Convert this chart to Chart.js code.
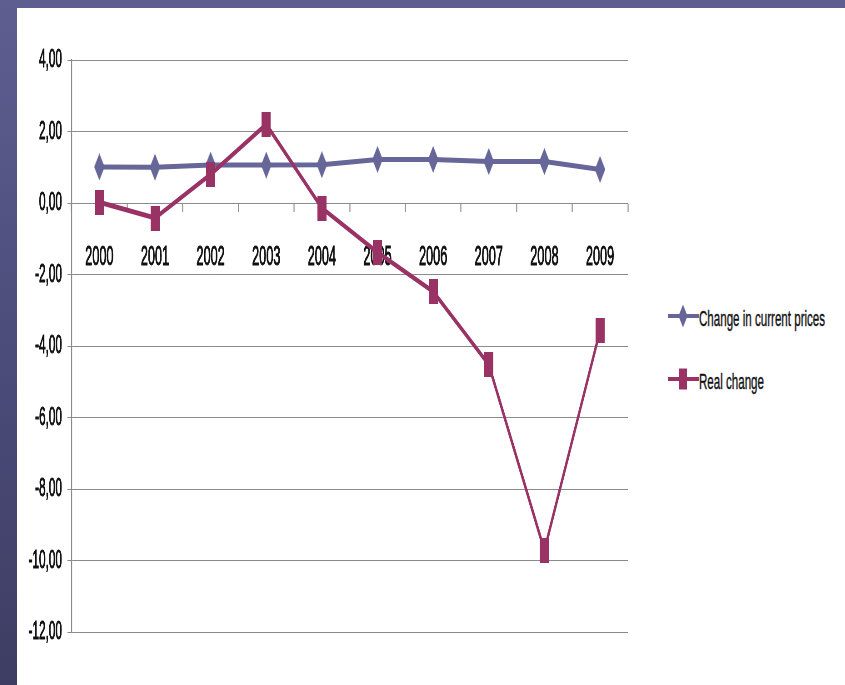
<!DOCTYPE html>
<html>
<head>
<meta charset="utf-8">
<script src="https://cdn.jsdelivr.net/npm/chart.js@4.4.1/dist/chart.umd.min.js"></script>
<style>
  html, body { margin: 0; padding: 0; }
  body {
    width: 845px; height: 685px; overflow: hidden; position: relative;
    background: linear-gradient(to bottom, #5e5e91 0%, #4b4b79 55%, #3d3d63 100%);
  }
  #sheet { position: absolute; left: 17px; top: 8px; right: 0; bottom: 0; background: #fff; }
  /* chart is drawn wide and squeezed horizontally, like the original slide */
  #chart { position: absolute; left: 0; top: 0; transform-origin: 0 0; transform: scaleX(0.4545); }
  #legend { position: absolute; left: 651px; top: 295px; font-family: 'Liberation Sans', Arial, sans-serif; }
  .item { position: relative; height: 26px; margin-bottom: 37px; }
  .item canvas { position: absolute; left: 0; top: 0; }
  .item span {
    position: absolute; left: 31px; top: 3px;
    font-size: 22px; line-height: 26px; white-space: nowrap; color: #111;
    -webkit-text-stroke: 0.4px #111;
    transform: scaleX(0.526); transform-origin: 0 50%;
  }
</style>
</head>
<body>
<div id="sheet">
  <canvas id="chart" width="1371" height="677"></canvas>
  <div id="legend"></div>
</div>
<script>
const years = ['2000', '2001', '2002', '2003', '2004', '2005', '2006', '2007', '2008', '2009'];
const seriesNames = ['Change in current prices', 'Real change'];
const currentPrices = [1.01, 1.00, 1.06, 1.06, 1.07, 1.22, 1.22, 1.16, 1.16, 0.94];
const realChange = [0.02, -0.42, 0.80, 2.20, -0.14, -1.38, -2.48, -4.52, -9.72, -3.57];
const yMin = -12, yMax = 4, yStep = 2;

const BLUE = '#666699';
const PLUM = '#993366';
const GRID = '#8a8a8a';
const SQUEEZE = 2.2;

function drawShape(g, shape, cx, cy, w, h, color) {
  g.fillStyle = color;
  g.beginPath();
  if (shape === 'diamond') {
    g.moveTo(cx, cy - h / 2);
    g.lineTo(cx + w / 2, cy);
    g.lineTo(cx, cy + h / 2);
    g.lineTo(cx - w / 2, cy);
    g.closePath();
  } else {
    g.rect(cx - w / 2, cy - h / 2, w, h);
  }
  g.fill();
}

function makeMarker(shape, w, h, color) {
  const c = document.createElement('canvas');
  c.width = w;
  c.height = h;
  drawShape(c.getContext('2d'), shape, w / 2, h / 2, w, h, color);
  return c;
}

const shapes = ['diamond', 'rect'];

// legend drawn as html next to the chart: short line with the marker on top
const htmlLegend = {
  id: 'htmlLegend',
  afterUpdate(chart) {
    const box = document.getElementById('legend');
    box.innerHTML = '';
    const items = chart.options.plugins.legend.labels.generateLabels(chart)
      .sort((a, b) => a.datasetIndex - b.datasetIndex);
    items.forEach(item => {
      const row = document.createElement('div');
      row.className = 'item';
      const icon = document.createElement('canvas');
      icon.width = 31;
      icon.height = 26;
      const g = icon.getContext('2d');
      g.fillStyle = item.strokeStyle;
      g.fillRect(0, 11, 31, 4);
      const shape = shapes[item.datasetIndex];
      if (shape === 'diamond') drawShape(g, shape, 15, 13, 9, 23, item.strokeStyle);
      else drawShape(g, shape, 15, 13, 8, 21, item.strokeStyle);
      const label = document.createElement('span');
      label.textContent = item.text;
      row.appendChild(icon);
      row.appendChild(label);
      box.appendChild(row);
    });
  }
};

Chart.defaults.font.family = "'Liberation Sans', Arial, sans-serif";
Chart.defaults.color = '#111';

new Chart(document.getElementById('chart'), {
  type: 'line',
  data: {
    labels: years,
    datasets: [{
      label: seriesNames[0],
      data: currentPrices,
      borderColor: BLUE,
      backgroundColor: BLUE,
      borderWidth: 5,
      pointStyle: makeMarker('diamond', 23, 27, BLUE),
      pointRadius: 10,
      order: 2
    }, {
      label: seriesNames[1],
      data: realChange,
      borderColor: PLUM,
      backgroundColor: PLUM,
      borderWidth: 5,
      pointStyle: makeMarker('rect', 20, 25, PLUM),
      pointRadius: 10,
      order: 1
    }]
  },
  options: {
    responsive: false,
    animation: false,
    devicePixelRatio: 1,
    layout: { padding: { top: 52, bottom: 53, left: 0, right: 27 } },
    plugins: {
      legend: { display: false },
      tooltip: { enabled: false }
    },
    scales: {
      x: {
        type: 'category',
        offset: true,
        position: { y: 0 },
        grid: {
          display: true,
          drawOnChartArea: false,
          offset: true,
          color: GRID,
          tickLength: 8,
          tickWidth: SQUEEZE
        },
        border: { color: GRID, width: 1 },
        ticks: {
          font: { size: 28 },
          padding: 29,
          maxRotation: 0,
          color: '#111',
          textStrokeColor: '#111',
          textStrokeWidth: 1
        }
      },
      y: {
        min: yMin,
        max: yMax,
        afterFit(scale) { scale.width = 120; },
        grid: { color: GRID, lineWidth: 1, tickLength: 9 },
        border: { color: GRID, width: SQUEEZE },
        ticks: {
          stepSize: yStep,
          padding: 12,
          font: { size: 26 },
          color: '#111',
          textStrokeColor: '#111',
          textStrokeWidth: 1,
          callback: v => v.toFixed(2).replace('.', ',')
        }
      }
    }
  },
  plugins: [htmlLegend]
});
</script>
</body>
</html>
